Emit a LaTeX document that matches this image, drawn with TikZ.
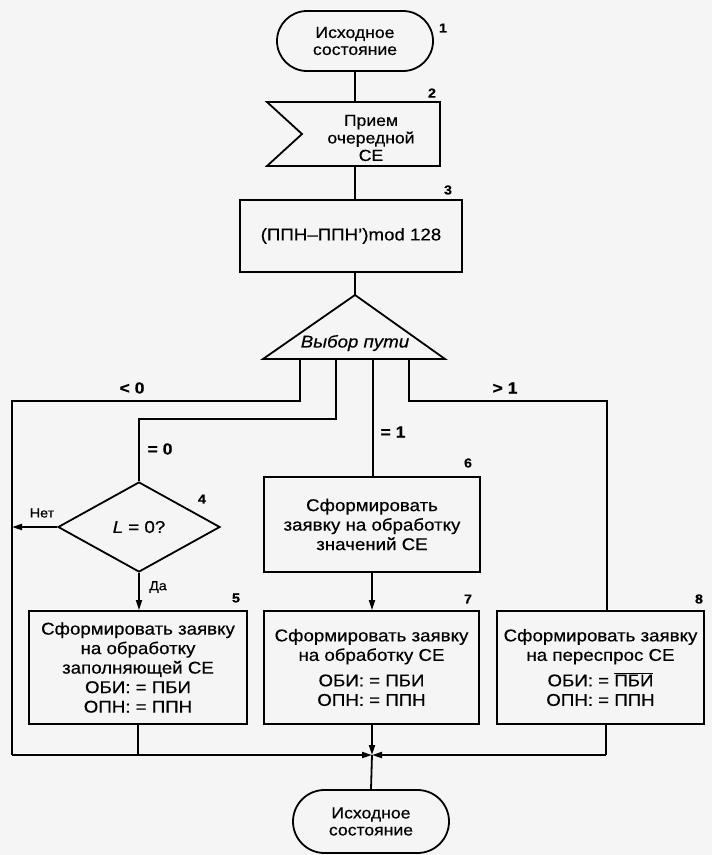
\documentclass[tikz,border=0pt]{standalone}
\usepackage{fontspec}
\setmainfont{Liberation Sans}[FakeStretch=1.1, FakeBold=0.5]
\usetikzlibrary{arrows.meta,shapes.misc,shapes.geometric}

\tikzset{
  wire/.style={line width=1.8pt, line join=miter},
  arrowed/.style={wire, -{Triangle[length=10pt,width=6pt]}},
  body/.style={font=\fontsize{17}{19.5}\selectfont},
  term/.style={draw, wire, rounded rectangle, minimum width=158pt, minimum height=60pt,
    align=center, inner sep=1pt, font=\fontsize{16}{17}\selectfont},
  procbox/.style={draw, wire, rectangle, align=center, inner sep=0pt, body},
  plain/.style={align=center, inner sep=0pt},
  tag/.style={font=\bfseries\fontsize{13}{13}\selectfont, inner sep=0pt},
  branch/.style={font=\bfseries\fontsize{16}{16}\selectfont, inner sep=0pt},
  reply/.style={font=\fontsize{13}{13}\selectfont, inner sep=0pt},
}

\begin{document}
\begin{tikzpicture}[x=1pt,y=-1pt]
\fill[black!4] (0,0) rectangle (712,855);
\useasboundingbox (0,0) rectangle (712,855);

% ---- start terminal
\node[term] (t1) at (355,41) {Исходное\\состояние};

% ---- input flag: receive next unit
\coordinate (f2n) at (355,102);
\coordinate (f2s) at (355,166);
\draw[wire] (267,102) -- (440,102) -- (440,166) -- (267,166) -- (302,134) -- cycle;
\node[plain, font=\fontsize{16}{17.5}\selectfont] (p2) at (371,138) {Прием\\очередной\\СЕ};

% ---- modulo difference
\node[procbox, minimum width=222pt, minimum height=72pt] (b3) at (351,236)
  {(ППН–ППН’)mod 128};

% ---- path selector
\coordinate (apex) at (355,295);
\coordinate (bl) at (263,359);
\coordinate (br) at (445,359);
\draw[wire] (apex) -- (br) -- (bl) -- cycle;
\node[plain, body, font=\itshape\fontsize{17}{19}\selectfont] (sel) at (355,343) {Выбор пути};
\coordinate (o1) at (300,359);
\coordinate (o2) at (336,359);
\coordinate (o3) at (373,359);
\coordinate (o4) at (409,359);

% ---- check L = 0
\node[draw, wire, diamond, minimum width=162pt, minimum height=90pt, inner sep=0pt,
  font=\fontsize{17}{19}\selectfont] (d4) at (139,527) {{\itshape L} = 0?};

% ---- action boxes
\node[procbox, minimum width=218pt, minimum height=113pt] (b5) at (138,667.5)
  {Сформировать заявку\\на обработку\\заполняющей СЕ\\ОБИ: = ПБИ\\ОПН: = ППН};
\node[procbox, minimum width=216pt, minimum height=95pt] (b6) at (372,524.5)
  {Сформировать\\заявку на обработку\\значений СЕ};
\node[procbox, minimum width=215pt, minimum height=113pt] (b7) at (371.5,667.5)
  {Сформировать заявку\\на обработку СЕ\\[6pt]ОБИ: = ПБИ\\ОПН: = ППН};
\node[procbox, minimum width=207pt, minimum height=113pt] (b8) at (600.5,667.5)
  {Сформировать заявку\\на переспрос СЕ\\[6pt]ОБИ: = $\overline{\hbox{ПБИ}}$\\ОПН: = ППН};

% ---- end terminal
\node[term, minimum height=63pt] (t9) at (371,821.5) {Исходное\\состояние};

% ---- routing corners
\coordinate (c1a) at (300,401);
\coordinate (c1b) at (12,401);
\coordinate (c2a) at (336,419);
\coordinate (c2b) at (139,419);
\coordinate (c4a) at (409,401);
\coordinate (c4b) at (607,401);
\coordinate (nofoot) at (12,527);
\coordinate (j) at (372,755);
\coordinate (jl) at (12,755);
\coordinate (jr) at (606,755);

% ---- connectors, top part
\draw[wire] (t1.south) -- (f2n);
\draw[wire] (f2s) -- (f2s |- b3.north);
\draw[wire] (b3.south -| apex) -- (apex);

% ---- branches
\draw[wire] (o1) -- (c1a) -- (c1b) -- (jl);
\draw[wire] (o2) -- (c2a) -- (c2b) -- (d4.north);
\draw[wire] (o3) -- (o3 |- b6.north);
\draw[wire] (o4) -- (c4a) -- (c4b) -- (c4b |- b8.north);

\draw[arrowed] (d4.west) -- (nofoot);
\draw[arrowed] (d4.south) -- (d4.south |- b5.north);
\draw[arrowed] (b6.south) -- (b6.south |- b7.north);

% ---- merge
\draw[wire] (b5.south) -- (b5.south |- j);
\draw[wire] (jr |- b8.south) -- (jr);
\draw[arrowed] (jl) -- (j);
\draw[arrowed] (jr) -- (j);
\draw[arrowed] (j |- b7.south) -- (j);
\draw[wire] (j) -- (t9.north);

% ---- branch labels
\node[branch] (l1) at (132,388) {< 0};
\node[branch] (l2) at (160,449) {= 0};
\node[branch] (l3) at (393,432) {= 1};
\node[branch] (l4) at (505,388) {> 1};
\node[reply] (no) at (42,513) {Нет};
\node[reply] (yes) at (158,587) {Да};

% ---- block numbers
\node[tag] (n1) at (443,28) {1};
\node[tag] (n2) at (432,93) {2};
\node[tag] (n3) at (448,190) {3};
\node[tag] (n4) at (202,499) {4};
\node[tag] (n5) at (236,598) {5};
\node[tag] (n6) at (468,463) {6};
\node[tag] (n7) at (468,599) {7};
\node[tag] (n8) at (699,599) {8};
\end{tikzpicture}
\end{document}
